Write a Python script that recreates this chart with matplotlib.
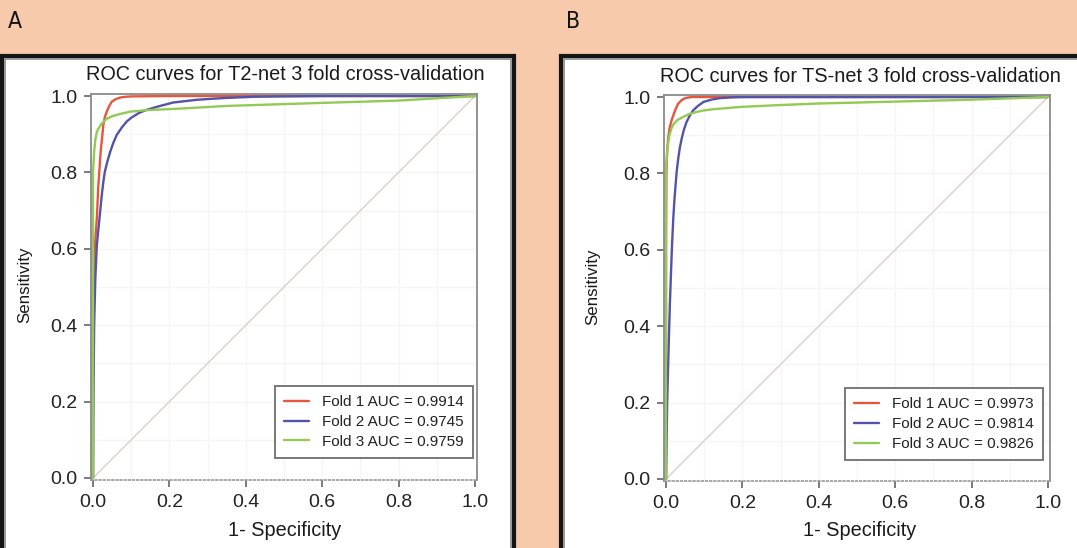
import matplotlib
matplotlib.use("Agg")
import matplotlib.pyplot as plt
from matplotlib.patches import Rectangle

plt.rcParams['font.family'] = ['Liberation Sans', 'DejaVu Sans']

# ---------------- data ----------------
ticks = [0.0, 0.2, 0.4, 0.6, 0.8, 1.0]
tick_labels = ["0.0", "0.2", "0.4", "0.6", "0.8", "1.0"]

# Panel A (T2-net)
a_f1_x = [0, 0.0, 0.001, 0.005, 0.010, 0.014, 0.017, 0.020, 0.024, 0.027, 0.031, 0.036, 0.042, 0.049, 0.058, 0.071, 0.085, 0.100, 0.200, 1.0]
a_f1_y = [0, 0.30, 0.450, 0.610, 0.680, 0.767, 0.810, 0.854, 0.893, 0.924, 0.945, 0.959, 0.973, 0.985, 0.991, 0.996, 0.998, 0.999, 1.000, 1.0]
a_f2_x = [0, 0.001, 0.003, 0.006, 0.010, 0.014, 0.018, 0.023, 0.027, 0.031, 0.038, 0.045, 0.053, 0.062, 0.075, 0.088, 0.100, 0.119, 0.138, 0.158, 0.183, 0.210, 0.245, 0.270, 0.315, 0.350, 0.420, 0.500, 0.600, 1.0]
a_f2_y = [0, 0.200, 0.400, 0.520, 0.610, 0.650, 0.690, 0.741, 0.775, 0.802, 0.830, 0.854, 0.877, 0.898, 0.917, 0.933, 0.943, 0.955, 0.963, 0.969, 0.976, 0.983, 0.987, 0.990, 0.993, 0.995, 0.998, 0.999, 1.000, 1.0]
a_f3_x = [0, 0.0, 0.0, 0.003, 0.006, 0.010, 0.016, 0.023, 0.035, 0.053, 0.075, 0.097, 0.140, 0.228, 0.350, 0.600, 0.800, 1.0]
a_f3_y = [0, 0.50, 0.80, 0.854, 0.885, 0.906, 0.918, 0.928, 0.940, 0.948, 0.954, 0.959, 0.963, 0.967, 0.974, 0.982, 0.988, 1.0]
a_labels = ["Fold 1 AUC = 0.9914", "Fold 2 AUC = 0.9745", "Fold 3 AUC = 0.9759"]
a_title = "ROC curves for T2-net 3 fold cross-validation"

# Panel B (TS-net)
b_f1_x = [0, 0.0, 0.001, 0.003, 0.006, 0.009, 0.014, 0.019, 0.025, 0.032, 0.040, 0.050, 0.060, 0.070, 1.0]
b_f1_y = [0, 0.60, 0.800, 0.860, 0.895, 0.917, 0.937, 0.952, 0.968, 0.983, 0.991, 0.997, 0.999, 1.000, 1.0]
b_f2_x = [0, 0.003, 0.007, 0.010, 0.015, 0.019, 0.022, 0.025, 0.028, 0.032, 0.036, 0.041, 0.047, 0.054, 0.062, 0.071, 0.084, 0.098, 0.118, 0.141, 0.170, 0.200, 1.0]
b_f2_y = [0, 0.200, 0.350, 0.454, 0.594, 0.682, 0.730, 0.769, 0.805, 0.839, 0.866, 0.891, 0.915, 0.935, 0.951, 0.965, 0.977, 0.987, 0.993, 0.997, 0.999, 1.000, 1.0]
b_f3_x = [0, 0.0, 0.0, 0.003, 0.006, 0.009, 0.014, 0.019, 0.030, 0.045, 0.060, 0.080, 0.100, 0.124, 0.160, 0.194, 0.300, 0.400, 0.600, 0.800, 1.0]
b_f3_y = [0, 0.507, 0.810, 0.856, 0.882, 0.900, 0.917, 0.928, 0.940, 0.948, 0.955, 0.961, 0.965, 0.968, 0.971, 0.974, 0.979, 0.983, 0.988, 0.993, 1.0]
b_labels = ["Fold 1 AUC = 0.9973", "Fold 2 AUC = 0.9814", "Fold 3 AUC = 0.9826"]
b_title = "ROC curves for TS-net 3 fold cross-validation"

colors = ["#E8553D", "#5353A9", "#93C955"]
peach = "#F8CAAC"

W, H = 1077, 548
fig = plt.figure(figsize=(W / 100, H / 100), dpi=100, facecolor=peach)

def px_rect(x0, y0, x1, y1):
    # pixel coordinates (top-left origin) -> figure fraction rect
    return [x0 / W, 1 - y1 / H, (x1 - x0) / W, (y1 - y0) / H]

# panel frames
for (x0, x1) in [(2, 514), (561, 1082)]:
    fig.patches.append(Rectangle((x0 / W, 1 - 560 / H), (x1 - x0) / W, (560 - 56) / H,
                                 transform=fig.transFigure, facecolor="white",
                                 edgecolor="#151515", linewidth=3.0, zorder=-2))
    fig.patches.append(Rectangle(((x0 + 3) / W, 1 - 560 / H), (x1 - x0 - 6) / W, (560 - 59) / H,
                                 transform=fig.transFigure, facecolor="none",
                                 edgecolor="#8a8a8a", linewidth=1.2, zorder=-1))

fig.text(8 / W, 1 - 21 / H, "A", fontsize=16.5, family="DejaVu Sans", fontstretch="condensed",
         va="center", ha="left", color="#111111")
fig.text(566 / W, 1 - 21 / H, "B", fontsize=16.5, family="DejaVu Sans", fontstretch="condensed",
         va="center", ha="left", color="#111111")

def make_panel(rect, curves, labels, title, leg_anchor, title_xy, xlabel_xy, ylabel_xy):
    ax = fig.add_axes(rect)
    ax.set_zorder(2)
    ax.set_facecolor("white")
    ax.set_xlim(-0.005, 1.005)
    ax.set_ylim(-0.005, 1.005)
    # faint grid
    for g in [i / 10 for i in range(1, 10)]:
        ax.axvline(g, color="#f5f5f5", lw=1.0, zorder=0)
        ax.axhline(g, color="#f5f5f5", lw=1.0, zorder=0)
    ax.plot([0, 1], [0, 1], color="#d9cfca", lw=1.0, zorder=1)
    handles = []
    for (x, y), c, lab in zip(curves, colors, labels):
        h, = ax.plot(x, y, color=c, lw=1.7, label=lab, zorder=2,
                     solid_joinstyle="round", solid_capstyle="round")
        handles.append(h)
    ax.set_xticks(ticks)
    ax.set_xticklabels(tick_labels)
    ax.set_yticks(ticks)
    ax.set_yticklabels(tick_labels)
    ax.tick_params(direction="out", length=5, width=1.4, color="#7a7a7a",
                   labelsize=14, labelcolor="#222222", pad=5)
    for s in ["left", "top", "right"]:
        ax.spines[s].set_color("#8a8a8a")
        ax.spines[s].set_linewidth(1.3)
    ax.spines["bottom"].set_color("#9a9a9a")
    ax.spines["bottom"].set_linewidth(1.2)
    ax.spines["bottom"].set_linestyle((0, (1, 1.5)))
    leg = ax.legend(handles=handles, loc="lower right", bbox_to_anchor=leg_anchor,
                    fontsize=11, frameon=True, fancybox=False, framealpha=1.0,
                    edgecolor="#6e6e6e", handlelength=1.65, handletextpad=0.85,
                    labelspacing=0.38, borderpad=0.6, borderaxespad=0.0)
    leg.get_frame().set_linewidth(1.3)
    for t in leg.get_texts():
        t.set_color("#222222")
    fig.text(title_xy[0] / W, 1 - title_xy[1] / H, title, fontsize=14.3,
             ha="center", va="center", color="#1a1a1a", zorder=3)
    fig.text(xlabel_xy[0] / W, 1 - xlabel_xy[1] / H, "1- Specificity", fontsize=14.3,
             ha="center", va="center", color="#1a1a1a", zorder=3)
    fig.text(ylabel_xy[0] / W, 1 - ylabel_xy[1] / H, "Sensitivity", fontsize=12.2,
             ha="center", va="center", rotation=90, color="#1a1a1a", zorder=3)
    return ax

make_panel(px_rect(91.1, 94.1, 476.9, 479.9),
           [(a_f1_x, a_f1_y), (a_f2_x, a_f2_y), (a_f3_x, a_f3_y)],
           a_labels, a_title, (0.99, 0.057), (285, 75), (285, 530), (25, 285))
make_panel(px_rect(664.1, 95.1, 1049.9, 480.9),
           [(b_f1_x, b_f1_y), (b_f2_x, b_f2_y), (b_f3_x, b_f3_y)],
           b_labels, b_title, (0.982, 0.054), (860, 77), (860, 530), (593, 287))

fig.savefig("out.png", dpi=100, facecolor=peach)
